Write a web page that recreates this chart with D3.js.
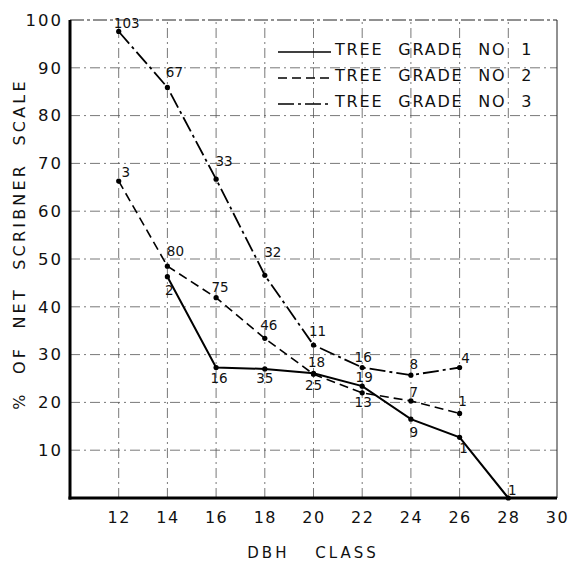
<!DOCTYPE html>
<html>
<head>
<meta charset="utf-8">
<script src="https://cdn.jsdelivr.net/npm/d3@7"></script>
<style>
  html, body { margin: 0; padding: 0; background: #fff; }
  svg { display: block; font-family: "DejaVu Sans", sans-serif; }
</style>
</head>
<body>
<svg id="chart" width="572" height="561"></svg>
<script>
// DBH classes along the x axis
const dbhClasses = [12, 14, 16, 18, 20, 22, 24, 26, 28];
const xTicks = [12, 14, 16, 18, 20, 22, 24, 26, 28, 30];
const yTicks = [10, 20, 30, 40, 50, 60, 70, 80, 90, 100];

// percent of net Scribner scale (null = no point)
const grade1Values = [null, 46.3, 27.3, 27.0, 26.1, 23.4, 16.5, 12.7, 0];
const grade2Values = [66.3, 48.5, 41.9, 33.4, 25.9, 22.0, 20.3, 17.7, null];
const grade3Values = [97.6, 85.9, 66.7, 46.6, 32.0, 27.3, 25.7, 27.3, null];

// number of trees written beside each point
const grade1Counts = [null, 2, 16, 35, 25, 19, 9, 1, 1];
const grade2Counts = [3, 80, 75, 46, 18, 13, 7, 1, null];
const grade3Counts = [103, 67, 33, 32, 11, 16, 8, 4, null];

const legendLabels = ["TREE GRADE NO 1", "TREE GRADE NO 2", "TREE GRADE NO 3"];

// where each count label sits relative to its point [dx, dy]
const labelOffsets = [
    [null, [2, 18], [3, 15], [0, 14], [0, 17], [2, -4], [3, 18], [4, 16], [4, -3]],
    [[7, -4], [8, -10], [4, -6], [4, -8], [3, -7], [1, 14], [3, -4], [3, -7], null],
    [[8, -3], [7, -10], [8, -13], [8, -18], [4, -9], [1, -6], [3, -6], [6, -5], null]
];

const svg = d3.select("#chart");
const margin = { left: 70, right: 15, top: 20, bottom: 63 };
const width = 572, height = 561;

const x = d3.scaleLinear().domain([10, 30]).range([margin.left, width - margin.right]);
const y = d3.scaleLinear().domain([0, 100]).range([height - margin.bottom, margin.top]);

// dash-dot grid, drawn faint like the original
const gridDash = "10,4,2,4";
const grid = svg.append("g").attr("stroke", "#555").attr("stroke-width", 0.8).attr("stroke-dasharray", gridDash);
grid.selectAll("line.v").data(xTicks.slice(0, -1)).join("line")
    .attr("x1", (d) => x(d)).attr("x2", (d) => x(d))
    .attr("y1", y(0)).attr("y2", y(100));
grid.selectAll("line.h").data(yTicks.slice(0, -1)).join("line")
    .attr("x1", x(10)).attr("x2", x(30))
    .attr("y1", (d) => y(d)).attr("y2", (d) => y(d));

// frame: top dashed, right thin
svg.append("line").attr("x1", x(10)).attr("x2", x(30)).attr("y1", y(100)).attr("y2", y(100))
    .attr("stroke", "#222").attr("stroke-width", 1).attr("stroke-dasharray", "14,3,3,3");
svg.append("line").attr("x1", x(30)).attr("x2", x(30)).attr("y1", y(100)).attr("y2", y(0))
    .attr("stroke", "#222").attr("stroke-width", 1);

// axes
const xAxis = d3.axisBottom(x).tickValues(xTicks).tickSize(0).tickPadding(14);
const yAxis = d3.axisLeft(y).tickValues(yTicks).tickSize(0).tickPadding(7);

const gx = svg.append("g").attr("transform", `translate(0,${y(0)})`).call(xAxis);
gx.select(".domain").remove();
gx.selectAll("text").attr("font-size", 16).attr("fill", "#111")
    .attr("font-family", "DejaVu Sans").attr("letter-spacing", 1.5);

const gy = svg.append("g").attr("transform", `translate(${x(10)},0)`).call(yAxis);
gy.select(".domain").remove();
gy.selectAll("text").attr("font-size", 16.5).attr("fill", "#111")
    .attr("font-family", "DejaVu Sans").attr("letter-spacing", 2);

svg.append("line").attr("x1", x(10)).attr("x2", x(10)).attr("y1", y(100)).attr("y2", y(0) + 1.5)
    .attr("stroke", "#000").attr("stroke-width", 3);
svg.append("line").attr("x1", x(10) - 1.5).attr("x2", x(30)).attr("y1", y(0)).attr("y2", y(0))
    .attr("stroke", "#000").attr("stroke-width", 3);

// axis titles
svg.append("text")
    .attr("x", 313).attr("y", 558)
    .attr("text-anchor", "middle")
    .attr("font-size", 15).attr("letter-spacing", 3).attr("word-spacing", 18)
    .attr("fill", "#111")
    .text("DBH CLASS");

svg.append("text")
    .attr("transform", "translate(25,244) rotate(-90)")
    .attr("text-anchor", "middle")
    .attr("font-size", 16).attr("letter-spacing", 3.2).attr("word-spacing", 9)
    .attr("fill", "#111")
    .text("% OF NET SCRIBNER SCALE");

// series
const seriesList = [
    { values: grade1Values, counts: grade1Counts, dash: null, width: 2 },
    { values: grade2Values, counts: grade2Counts, dash: "9,5", width: 1.6 },
    { values: grade3Values, counts: grade3Counts, dash: "16,4,3,4", width: 1.8 }
];

const line = d3.line()
    .defined((d) => d.v !== null)
    .x((d) => x(d.c))
    .y((d) => y(d.v));

seriesList.forEach((s, si) => {
    const pts = dbhClasses.map((c, i) => ({ c, v: s.values[i], n: s.counts[i], off: labelOffsets[si][i] }));
    const g = svg.append("g");
    g.append("path")
        .datum(pts)
        .attr("d", line)
        .attr("fill", "none")
        .attr("stroke", "#000")
        .attr("stroke-width", s.width)
        .attr("stroke-dasharray", s.dash);

    const valid = pts.filter((d) => d.v !== null);
    g.selectAll("circle").data(valid).join("circle")
        .attr("cx", (d) => x(d.c)).attr("cy", (d) => y(d.v)).attr("r", 2.6)
        .attr("fill", "#000");

    g.selectAll("text").data(valid.filter((d) => d.n !== null)).join("text")
        .attr("x", (d) => x(d.c) + d.off[0])
        .attr("y", (d) => y(d.v) + d.off[1])
        .attr("text-anchor", "middle")
        .attr("font-size", 13.5)
        .attr("fill", "#111")
        .text((d) => d.n);
});

// legend
const legendDash = [null, "9,5", "16,4,3,4"];
const legend = svg.append("g");
legendLabels.forEach((lab, i) => {
    const ly = 52 + i * 26;
    legend.append("line")
        .attr("x1", 278).attr("x2", 331).attr("y1", ly).attr("y2", ly)
        .attr("stroke", "#000").attr("stroke-width", 1.6)
        .attr("stroke-dasharray", legendDash[i]);
    legend.append("text")
        .attr("x", 335).attr("y", ly + 3)
        .attr("font-size", 16).attr("letter-spacing", 1.8).attr("word-spacing", 8)
        .attr("fill", "#111")
        .text(lab);
});
</script>
</body>
</html>
